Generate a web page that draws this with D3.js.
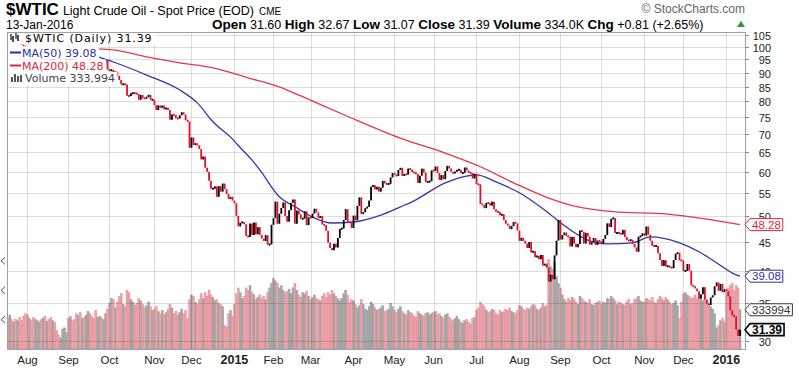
<!DOCTYPE html>
<html>
<head>
<meta charset="utf-8">
<script src="https://cdn.jsdelivr.net/npm/d3@7"></script>
<style>
  body { margin: 0; background: #fff; }
  svg { display: block; font-family: "Liberation Sans", Arial, sans-serif; }
</style>
</head>
<body>
<script>
// $WTIC daily, 18-Jul-2014 .. 13-Jan-2016

var holidays = ["2014-09-01","2014-11-27","2014-12-25","2015-01-01","2015-01-19","2015-02-16",
  "2015-04-03","2015-05-25","2015-07-03","2015-09-07","2015-11-26","2015-12-25","2016-01-01"];

var prevClose = 103.19; // close of 17-Jul-2014

var closes = [
  // Jul 2014
  103.13,104.59,102.39,103.12,102.07,102.09,101.67,100.97,100.27,98.17,
  // Aug
  97.88,98.29,97.38,96.92,97.34,97.65,98.08,97.37,97.59,95.58,97.35,96.41,94.48,96.07,93.96,93.65,93.35,93.86,93.88,94.55,95.96,
  // Sep
  92.88,95.54,94.45,93.29,92.29,92.75,91.67,92.83,92.27,92.92,94.88,94.42,93.07,92.41,91.52,91.56,92.80,92.53,93.54,94.57,91.16,
  // Oct
  90.73,91.01,89.74,90.34,88.85,87.31,85.77,85.82,85.74,81.84,81.78,82.70,82.75,82.71,82.49,80.52,82.09,81.01,81.00,81.42,82.20,80.54,80.54,
  // Nov
  78.78,77.19,78.68,77.91,78.65,77.40,77.94,77.18,74.21,75.82,75.64,74.61,74.58,75.58,76.51,75.78,74.09,73.69,66.15,
  // Dec
  69.00,66.88,67.38,66.81,65.84,63.05,63.82,60.94,59.95,57.81,55.91,55.93,56.47,54.11,56.52,55.26,57.12,55.84,54.73,53.61,54.12,53.27,
  // Jan 2015
  52.69,50.04,47.93,48.65,48.79,48.36,46.07,45.89,48.48,46.25,48.69,46.39,47.78,46.31,45.59,45.15,46.23,44.45,44.53,48.24,
  // Feb
  49.57,53.05,48.45,50.48,51.69,52.86,50.02,48.84,51.21,52.78,53.53,48.45,51.16,50.34,49.45,49.45,50.99,48.17,49.76,
  // Mar
  49.59,50.52,51.53,50.76,49.61,50.00,48.29,48.17,47.05,44.84,43.88,43.46,44.66,43.96,45.72,47.45,47.51,49.21,51.43,48.87,48.68,47.60,
  // Apr
  50.09,49.14,52.14,53.98,50.42,50.79,51.64,51.91,53.29,56.39,56.71,55.74,56.38,55.26,56.16,57.74,57.15,56.99,57.06,58.58,59.63,
  // May
  59.15,58.93,60.40,60.93,58.94,59.39,59.25,60.75,60.50,59.88,59.69,59.43,57.26,58.98,60.72,59.72,57.51,57.51,57.68,60.30,
  // Jun
  60.20,61.26,59.64,58.00,59.13,58.14,60.14,61.43,60.77,59.96,59.52,59.97,60.45,60.45,59.61,59.68,61.01,60.27,59.70,59.63,58.33,59.47,
  // Jul
  56.96,56.93,52.53,52.33,51.65,52.78,52.74,52.20,53.04,51.41,50.91,50.89,50.15,50.36,49.19,48.45,48.14,47.39,47.98,48.79,48.52,47.12,
  // Aug
  45.17,45.74,45.15,44.66,43.87,44.96,43.08,43.30,42.23,42.50,41.87,42.62,40.80,41.14,40.45,38.24,39.31,38.60,42.56,45.22,49.20,
  // Sep
  45.41,46.25,46.75,46.05,45.94,44.15,45.92,44.63,44.00,44.59,47.15,46.90,44.68,46.68,46.00,44.48,44.91,45.70,44.43,45.23,45.09,
  // Oct
  44.74,45.54,46.26,48.53,47.81,49.43,49.63,46.66,46.66,46.64,46.38,47.26,45.89,45.29,45.20,45.38,44.60,43.98,43.20,45.94,46.06,46.59,
  // Nov
  46.14,47.90,46.32,45.20,44.29,44.21,44.21,42.93,41.75,40.74,41.74,40.67,40.75,40.54,40.39,41.75,42.87,43.04,41.71,41.65,
  // Dec
  39.94,39.94,41.08,39.97,37.65,37.51,37.16,36.76,35.62,36.31,37.35,35.52,34.95,34.73,35.81,36.14,37.50,38.10,36.81,37.87,36.60,37.04,
  // Jan 2016
  36.76,35.97,33.97,33.27,33.16,31.41,30.58,31.39
];

// volume, thousands
var volumes = [
  265,290,250,230,255,240,270,245,280,300,
  290,260,245,270,255,240,230,250,265,280,235,250,270,240,225,160,120,95,170,180,140,
  260,275,240,250,300,285,310,260,270,290,320,300,275,260,330,270,280,265,250,300,340,
  390,430,420,350,400,450,470,380,360,500,480,420,400,370,390,430,410,380,350,370,400,360,330,
  340,360,320,300,330,290,310,340,380,350,300,320,290,310,340,300,330,260,420,
  460,450,400,380,420,470,430,480,450,500,460,440,410,420,390,380,360,200,190,300,330,280,
  380,470,520,480,430,450,520,500,540,480,460,420,440,460,430,450,420,480,520,560,
  600,580,560,520,540,500,480,490,510,470,520,560,500,460,440,480,470,490,450,
  420,440,460,430,420,410,450,470,440,480,460,500,470,450,430,410,430,470,500,460,400,420,
  410,380,350,370,420,380,340,330,360,400,380,350,330,340,350,370,320,330,340,390,360,
  330,310,340,360,320,300,290,330,310,300,280,270,320,300,290,280,300,310,290,300,
  310,320,290,300,280,260,290,300,270,250,240,260,280,250,230,220,240,250,230,210,260,270,
  330,350,400,380,360,330,310,320,340,330,300,290,330,310,320,340,330,350,320,310,300,330,
  370,360,340,330,350,340,360,380,370,340,330,350,390,360,370,760,700,680,740,620,560,
  520,460,420,400,430,410,440,420,400,380,450,430,410,400,390,420,380,370,390,400,410,
  380,400,390,430,420,450,430,410,380,400,390,380,370,400,420,380,390,420,430,450,410,400,
  400,430,420,410,440,400,390,420,450,430,410,440,420,400,380,390,410,370,260,400,
  470,480,460,450,430,440,460,430,450,420,410,440,400,380,360,340,300,180,200,240,260,230,
  480,520,540,560,500,540,520,333.994
];

var ma50 = [
  ["2014-09-23",96.0],["2014-10-03",94.0],["2014-10-28",89.1],["2014-11-20",83.8],["2014-12-04",79.5],
  ["2014-12-16",73.6],["2014-12-30",69.1],["2015-01-08",65.6],["2015-01-15",62.9],["2015-01-22",60.4],
  ["2015-02-05",54.1],["2015-02-19",51.7],["2015-03-03",49.8],["2015-03-17",48.6],["2015-04-01",48.8],
  ["2015-04-22",50.2],["2015-05-06",51.9],["2015-05-14",53.0],["2015-06-09",57.3],["2015-06-24",58.9],
  ["2015-07-01",59.2],["2015-07-16",57.5],["2015-08-03",55.0],["2015-08-21",50.9],["2015-09-04",47.8],
  ["2015-09-22",45.3],["2015-10-06",44.6],["2015-10-23",44.8],["2015-11-05",45.9],["2015-11-27",44.8],
  ["2015-12-11",43.2],["2015-12-23",41.5],["2016-01-11",39.3],["2016-01-13",39.08]
];

var ma200 = [
  ["2014-09-23",99.2],["2014-10-03",98.8],["2014-10-28",96.0],["2014-11-20",93.7],["2014-12-16",91.8],
  ["2015-01-13",88.1],["2015-02-05",84.9],["2015-02-23",81.8],["2015-03-26",75.5],["2015-05-06",68.8],
  ["2015-06-09",64.7],["2015-07-06",61.2],["2015-07-29",57.3],["2015-08-21",54.0],["2015-09-15",51.9],
  ["2015-10-09",50.9],["2015-11-18",50.4],["2016-01-13",48.28]
];

var priceTicks = [30,35,40,45,50,55,60,65,70,75,80,85,90,95,100,105];
var volTicks = [250,500,750];

var quote = [["Open"," 31.60 "],["High"," 32.67 "],["Low"," 31.07 "],["Close"," 31.39 "],
             ["Volume"," 334.0K "],["Chg"," +0.81 (+2.65%)"]];

var W = 799, H = 372;
var plot = {l: 7, r: 745, t: 32, b: 349};

var fmt = d3.utcFormat("%Y-%m-%d");
var dates = d3.utcDays(new Date(Date.UTC(2014, 6, 18)), new Date(Date.UTC(2016, 0, 14)))
  .filter(function(d) { return d.getUTCDay() % 6 !== 0 && holidays.indexOf(fmt(d)) < 0; });
var dateIdx = {};
dates.forEach(function(d, i) { dateIdx[fmt(d)] = i; });

var x = d3.scaleLinear().domain([-0.5, dates.length - 0.5]).range([plot.l, 741]);
var y = d3.scaleLog().domain([29.0, 106.3]).range([plot.b, plot.t]);
var yv = d3.scaleLinear().domain([0, 1000]).range([plot.b, plot.b - 117.5]);

var svg = d3.select("body").append("svg").attr("width", W).attr("height", H);

svg.append("defs").append("clipPath").attr("id", "clip")
  .append("rect").attr("x", plot.l).attr("y", plot.t)
  .attr("width", plot.r - plot.l).attr("height", plot.b - plot.t);

var up = function(i) { return closes[i] >= (i ? closes[i - 1] : prevClose); };

var monthStarts = dates.map(function(d, i) { return i; })
  .filter(function(i) { return i > 0 && dates[i].getUTCMonth() !== dates[i - 1].getUTCMonth(); });

var chart = svg.append("g").attr("clip-path", "url(#clip)");

// volume
chart.selectAll("rect.vol").data(volumes).enter().append("rect")
  .attr("class", "vol")
  .attr("x", function(d, i) { return x(i) - 1; })
  .attr("width", 2)
  .attr("y", function(d) { return yv(d); })
  .attr("height", function(d) { return plot.b - yv(d); })
  .attr("fill", function(d, i) { return up(i) ? "#a7a7a7" : "#eea3aa"; })
  .attr("stroke", function(d, i) { return up(i) ? "#999" : "#e6848f"; })
  .attr("stroke-width", 0.4);

// grid
chart.selectAll("line.hg").data(priceTicks).enter().append("line")
  .attr("x1", plot.l).attr("x2", plot.r)
  .attr("y1", function(d) { return Math.round(y(d)) + 0.5; })
  .attr("y2", function(d) { return Math.round(y(d)) + 0.5; })
  .attr("stroke", "#000").attr("stroke-opacity", 0.13);
chart.selectAll("line.vg").data(monthStarts).enter().append("line")
  .attr("y1", plot.t).attr("y2", plot.b)
  .attr("x1", function(i) { return Math.round(x(i)) + 0.5; })
  .attr("x2", function(i) { return Math.round(x(i)) + 0.5; })
  .attr("stroke", "#000").attr("stroke-opacity", 0.13);

// moving averages
var maLine = d3.line()
  .x(function(d) { return x(dateIdx[d[0]]); })
  .y(function(d) { return y(d[1]); })
  .curve(d3.curveMonotoneX);
chart.append("path").attr("d", maLine(ma200)).attr("fill", "none")
  .attr("stroke", "#e8364e").attr("stroke-width", 1.3);
chart.append("path").attr("d", maLine(ma50)).attr("fill", "none")
  .attr("stroke", "#3535a6").attr("stroke-width", 1.3);

// candles (previous close -> close)
chart.selectAll("line.c").data(closes).enter().append("line")
  .attr("x1", function(d, i) { return x(i); })
  .attr("x2", function(d, i) { return x(i); })
  .attr("y1", function(d, i) {
    var a = y(i ? closes[i - 1] : prevClose), b = y(d);
    return Math.abs(a - b) < 2 ? (a + b) / 2 - 1 : a;
  })
  .attr("y2", function(d, i) {
    var a = y(i ? closes[i - 1] : prevClose), b = y(d);
    return Math.abs(a - b) < 2 ? (a + b) / 2 + 1 : b;
  })
  .attr("stroke", function(d, i) { return up(i) ? "#000" : "#e0102a"; })
  .attr("stroke-width", 1.8);

// legend
var legend = svg.append("g").attr("font-family", "'DejaVu Sans', Verdana, sans-serif").attr("font-size", 11);
var rows = [
  {text: "$WTIC (Daily) 31.39", color: "#000", base: 42, spacing: 0.9},
  {text: "MA(50) 39.08", color: "#2f2fa0", base: 56.5, spacing: 0},
  {text: "MA(200) 48.28", color: "#e0263f", base: 69.5, spacing: 0},
  {text: "Volume 333,994", color: "#444", base: 82, spacing: 0}
];
rows.forEach(function(r, k) {
  var g = legend.append("g");
  var tx = (k === 0 || k === 3) ? 25 : 22;
  var t = g.append("text").attr("x", tx).attr("y", r.base)
    .attr("fill", r.color).attr("letter-spacing", r.spacing).text(r.text);
  var end = tx + t.node().getComputedTextLength() + 2;
  g.insert("rect", "text").attr("x", plot.l + 0.5).attr("y", r.base - 10)
    .attr("width", end - plot.l).attr("height", k === 0 ? 12.5 : 13).attr("fill", "#fff");
  if (k === 1 || k === 2) {
    g.append("line").attr("x1", 10).attr("x2", 21).attr("y1", r.base - 4).attr("y2", r.base - 4)
      .attr("stroke", r.color).attr("stroke-width", 2);
  }
});
// small icons
[[11, 34, 40], [13, 36, 42], [16, 33, 39], [18, 35, 41]].forEach(function(c, j) {
  legend.append("line").attr("x1", c[0]).attr("x2", c[0]).attr("y1", c[1]).attr("y2", c[2])
    .attr("stroke", j % 2 ? "#000" : "#333").attr("stroke-width", 1.4);
});
[[11, 77], [14, 74], [17, 76], [20, 75]].forEach(function(c) {
  legend.append("rect").attr("x", c[0]).attr("y", c[1]).attr("width", 2).attr("height", 82 - c[1])
    .attr("fill", "#555");
});

// frame
svg.append("rect").attr("x", plot.l + 0.5).attr("y", plot.t + 0.5)
  .attr("width", plot.r - plot.l).attr("height", plot.b - plot.t)
  .attr("fill", "none").attr("stroke", "#a0a0a0");

// price axis
var yAxis = svg.append("g").attr("font-size", 11).attr("fill", "#222");
priceTicks.forEach(function(p) {
  var yy = Math.round(y(p)) + 0.5;
  yAxis.append("line").attr("x1", plot.r).attr("x2", plot.r + 4).attr("y1", yy).attr("y2", yy)
    .attr("stroke", "#888");
  yAxis.append("text").attr("x", 771).attr("y", yy + 4).attr("text-anchor", "end").text(p);
});

// volume ticks on the left
volTicks.forEach(function(v) {
  svg.append("path").attr("d", "M5," + (yv(v) - 3.5) + " L1," + yv(v) + " L5," + (yv(v) + 3.5))
    .attr("fill", "none").attr("stroke", "#555").attr("stroke-width", 1);
});

// month axis
var xAxis = svg.append("g").attr("font-size", 11.5).attr("fill", "#222").attr("text-anchor", "middle");
monthStarts.forEach(function(i) {
  var d = dates[i], jan = d.getUTCMonth() === 0;
  xAxis.append("text").attr("x", x(i)).attr("y", 364)
    .attr("font-weight", jan ? "bold" : null)
    .attr("font-size", jan ? 12.5 : null)
    .text(jan ? d.getUTCFullYear() : d3.utcFormat("%b")(d));
});

// value tags on the right
function tag(label, cy, color, bold) {
  var g = svg.append("g");
  var t = g.append("text").attr("x", 752).attr("y", cy + 4).attr("font-size", bold ? 12 : 11.5)
    .attr("font-weight", bold ? "bold" : null).attr("fill", color).text(label);
  var w = t.node().getComputedTextLength();
  g.insert("path", "text")
    .attr("d", "M745," + cy + " L750," + (cy - 6) + " H" + (754 + w) + " V" + (cy + 6) + " H750 Z")
    .attr("fill", "#fff").attr("stroke", color).attr("stroke-width", bold ? 1.6 : 1);
}
tag("48.28", y(ma200[ma200.length - 1][1]), "#e0263f", false);
tag("39.08", y(ma50[ma50.length - 1][1]), "#2f2fa0", false);
tag("333994", yv(volumes[volumes.length - 1]), "#333", false);
tag(closes[closes.length - 1].toFixed(2), y(closes[closes.length - 1]), "#000", true);

// header
var head = svg.append("text").attr("x", 6).attr("y", 15);
head.append("tspan").attr("font-weight", "bold").attr("font-size", 17).text("$WTIC");
head.append("tspan").attr("font-size", 12.5).attr("dx", 4).text("Light Crude Oil - Spot Price (EOD)");
head.append("tspan").attr("font-size", 10).attr("dx", 5).text("CME");

svg.append("text").attr("x", 745).attr("y", 13).attr("text-anchor", "end")
  .attr("font-size", 12).attr("fill", "#666").text("\u00a9 StockCharts.com");

svg.append("text").attr("x", 6).attr("y", 28.5).attr("font-size", 12).text("13-Jan-2016");

var q = svg.append("text").attr("x", 212).attr("y", 28.5).attr("font-size", 12.5);
quote.forEach(function(p) {
  q.append("tspan").attr("font-weight", "bold").attr("font-size", 13.5).text(p[0]);
  q.append("tspan").text(p[1]);
});
svg.append("path").attr("d", "M737,27 L741,21 L745,27 Z").attr("fill", "#2a9a2a");
</script>
</body>
</html>
